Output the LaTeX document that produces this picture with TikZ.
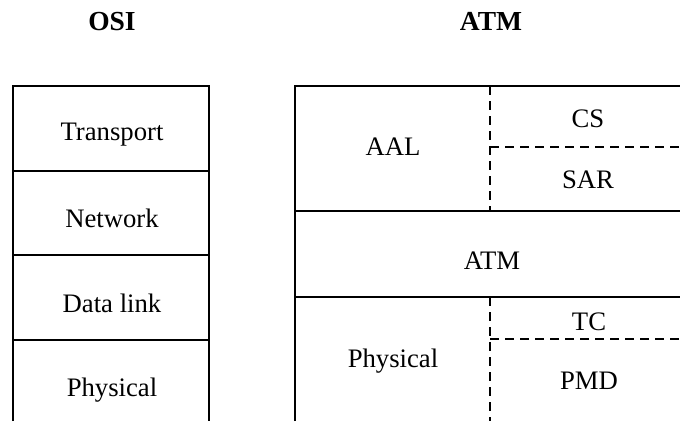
\documentclass[tikz,border=0pt]{standalone}
\usepackage{fontspec}
\setmainfont{Liberation Serif}
\begin{document}
\begin{tikzpicture}[x=1pt, y=-1pt, line width=1.1pt,
  layer/.style={font=\fontsize{26.7}{31}\selectfont, inner sep=0pt, anchor=base},
  title/.style={font=\bfseries\fontsize{27.5}{32}\selectfont, inner sep=0pt, anchor=base},
  sublayer/.style={dash pattern=on 9pt off 6pt}]
\useasboundingbox (0,0) rectangle (680,421);

% column titles
\node[title] (tosi) at (112,30) {OSI};
\node[title] (tatm) at (491,30) {ATM};

% OSI stack
\draw (13,421) -- (13,86) -- (209,86) -- (209,421);
\draw (13,171) -- (209,171);
\draw (13,255) -- (209,255);
\draw (13,340) -- (209,340);
\node[layer] (transport) at (112,140) {Transport};
\node[layer] (network)   at (112,227) {Network};
\node[layer] (datalink)  at (112,312) {Data link};
\node[layer] (ophys)     at (112,396) {Physical};

% ATM stack
\draw (295,421) -- (295,86) -- (680,86);
\draw (295,211) -- (680,211);
\draw (295,297) -- (680,297);
\draw[sublayer] (490,86) -- (490,211);
\draw[sublayer] (490,147) -- (680,147);
\draw[sublayer] (490,297) -- (490,421);
\draw[sublayer] (490,339) -- (680,339);
\node[layer] (aal)   at (393,155) {AAL};
\node[layer] (cs)    at (588,127) {CS};
\node[layer] (sar)   at (588,188) {SAR};
\node[layer] (atm)   at (492,269) {ATM};
\node[layer] (aphys) at (393,367) {Physical};
\node[layer] (tc)    at (589,330) {TC};
\node[layer] (pmd)   at (589,389) {PMD};
\end{tikzpicture}
\end{document}
